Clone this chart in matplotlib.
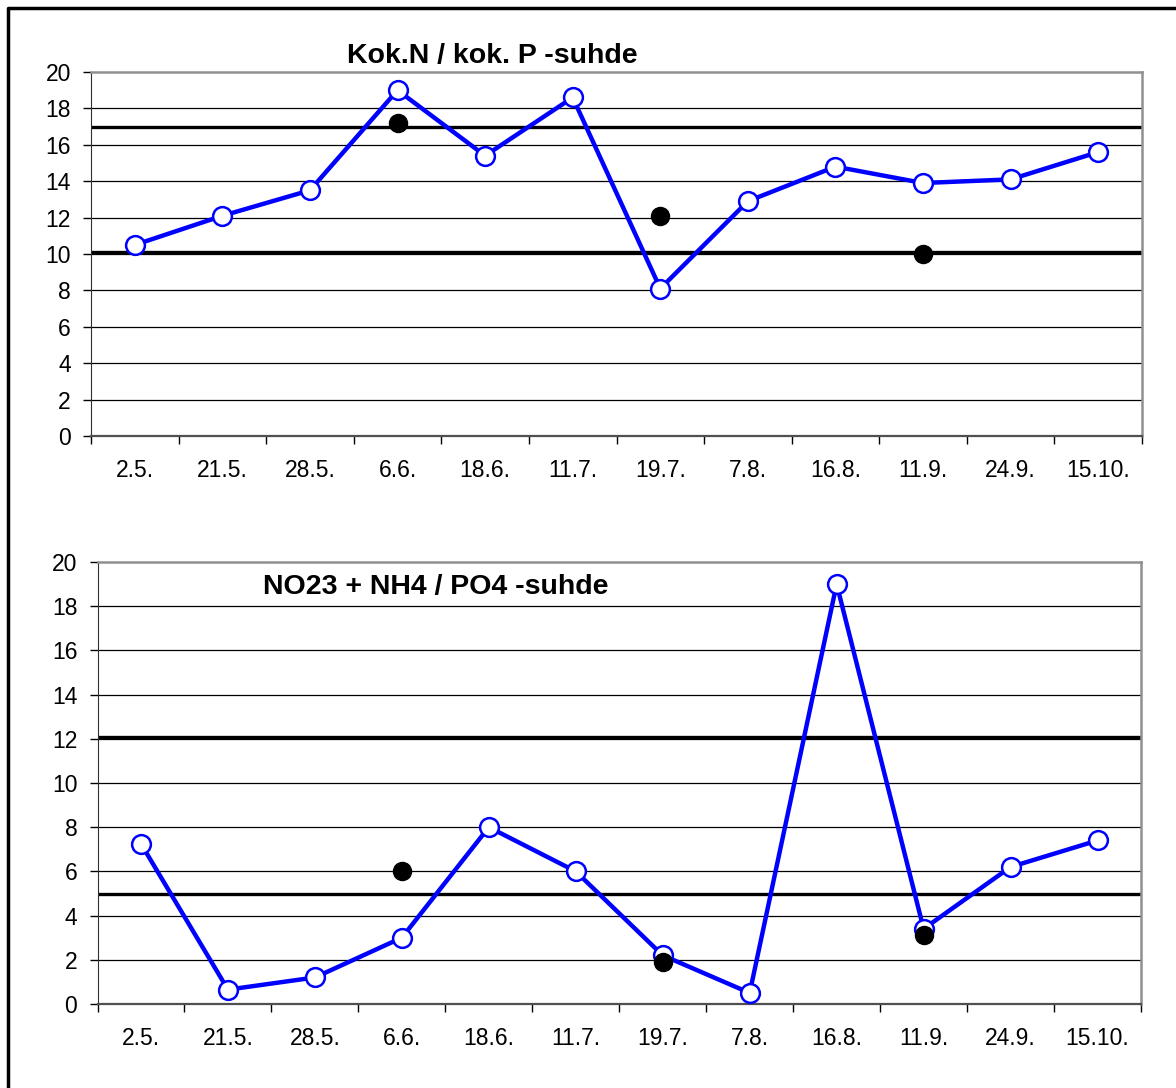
import matplotlib.pyplot as plt
import matplotlib.lines as mlines
import numpy as np

# sampling dates (shared by both panels)
dates = ['2.5.', '21.5.', '28.5.', '6.6.', '18.6.', '11.7.',
         '19.7.', '7.8.', '16.8.', '11.9.', '24.9.', '15.10.']

# Kok.N / kok.P ratio
np_total = [10.5, 12.1, 13.5, 19.0, 15.4, 18.6, 8.1, 12.9, 14.8, 13.9, 14.1, 15.6]
np_total_ref_idx = [3, 6, 9]
np_total_ref = [17.2, 12.1, 10.0]
np_total_limits = [17.0, 10.1]

# NO23 + NH4 / PO4 ratio
np_inorg = [7.25, 0.65, 1.2, 3.0, 8.0, 6.0, 2.2, 0.5, 19.0, 3.4, 6.2, 7.4]
np_inorg_ref_idx = [3, 6, 9]
np_inorg_ref = [6.0, 1.9, 3.1]
np_inorg_limits = [12.1, 5.0]

plt.rcParams['font.family'] = ['Liberation Sans', 'DejaVu Sans']

W, H = 1176, 1088
fig = plt.figure(figsize=(W / 100, H / 100), dpi=100)


def draw_panel(axis, values, ref_idx, ref_vals, limits):
    x = np.arange(len(dates))

    # grid lines every 2 units
    for yv in range(2, 20, 2):
        axis.axhline(yv, color='black', lw=0.9, zorder=1)

    # limit lines
    for lim in limits:
        axis.axhline(lim, color='black', lw=2.4, zorder=2)

    axis.plot(x, values, color='#0000ff', lw=3.2, marker='o', ms=13.5,
              mfc='white', mec='#0000ff', mew=1.8, zorder=3)
    axis.plot(ref_idx, ref_vals, 'o', color='black', ms=13, zorder=4)

    axis.set_xlim(-0.5, len(dates) - 0.5)
    axis.set_ylim(0, 20)
    axis.set_yticks(range(0, 21, 2))
    axis.tick_params(axis='y', direction='out', length=6, width=1,
                     labelsize=16.5, pad=8.5)

    # category boundaries as ticks, labels in between
    axis.set_xticks(np.arange(-0.5, len(dates), 1.0))
    axis.set_xticklabels([])
    axis.tick_params(axis='x', which='major', direction='out', length=6, width=1)
    axis.set_xticks(x, minor=True)
    axis.set_xticklabels(dates, minor=True)
    axis.tick_params(axis='x', which='minor', length=0, labelsize=16.5, pad=16.5)

    axis.spines['left'].set_color('#303030')
    axis.spines['bottom'].set_color('#505050')
    axis.spines['bottom'].set_linewidth(1.6)
    axis.spines['top'].set_color('#909090')
    axis.spines['right'].set_color('#909090')
    axis.spines['top'].set_linewidth(1.8)
    axis.spines['right'].set_linewidth(1.8)


ax1 = fig.add_axes([91 / W, 1 - 436 / H, 1051 / W, 364 / H])
draw_panel(ax1, np_total, np_total_ref_idx, np_total_ref, np_total_limits)

ax2 = fig.add_axes([97.5 / W, 1 - 1004 / H, 1043.5 / W, 442 / H])
draw_panel(ax2, np_inorg, np_inorg_ref_idx, np_inorg_ref, np_inorg_limits)

# titles
fig.text(347 / W, 1 - 63 / H, 'Kok.N / kok. P -suhde', fontsize=20.5,
         fontweight='bold', ha='left', va='baseline')
fig.text(263 / W, 1 - 594 / H, 'NO23 + NH4 / PO4 -suhde', fontsize=20.5,
         fontweight='bold', ha='left', va='baseline', zorder=5)

# outer frame (left and top edges visible)
fig.add_artist(mlines.Line2D([8 / W, 8 / W, 1.01], [-0.01, 1 - 8 / H, 1 - 8 / H],
                             transform=fig.transFigure, color='black', lw=2.5))

fig.savefig('out.png', dpi=100)
